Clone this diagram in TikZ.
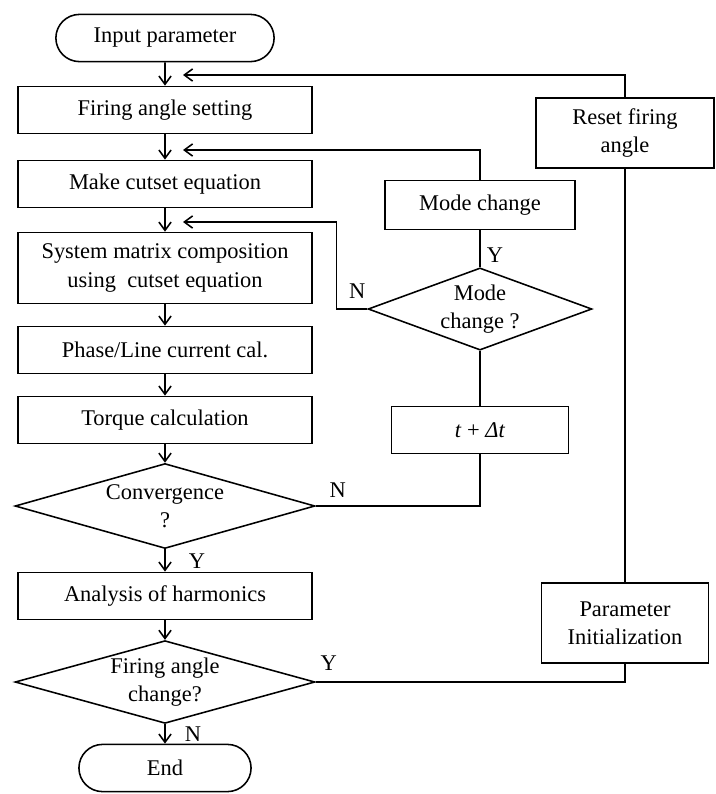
\documentclass[tikz,border=0pt]{standalone}
\usepackage{fontspec}
\setmainfont{Liberation Serif}
\usetikzlibrary{positioning, arrows.meta, calc, shapes.geometric, shapes.misc}
\tikzset{
  proc/.style = {rectangle, draw, line width=0.8pt, minimum width=5.29cm,
                 minimum height=0.85cm, align=center, inner sep=1pt},
  term/.style = {rounded rectangle, draw, line width=0.8pt,
                 minimum height=0.85cm, inner sep=1pt},
  decision/.style = {diamond, draw, line width=0.8pt, align=center,
                     inner sep=0pt, aspect=3.4},
  flow/.style = {-{Straight Barb[length=1.5mm, width=2.2mm]}, line width=0.8pt},
  link/.style = {line width=0.8pt},
  yn/.style = {inner sep=0pt},
}

\begin{document}
\begin{tikzpicture}[x=0.018cm, y=-0.018cm,
  every node/.style={font=\fontsize{11.5}{14.5}\selectfont}]
\useasboundingbox (0,0) rectangle (715,794);

% main column
\node[term, minimum width=4cm] (inp) at (165,38) {Input parameter};
\node[proc] (fire) at (165,110) {Firing angle setting};
\node[proc] (cut) at (165,184) {Make cutset equation};
\node[proc, minimum height=1.28cm] (sys) at (165,268)
      {System matrix composition\\using~ cutset equation};
\node[proc] (phase) at (165,350) {Phase/Line current cal.};
\node[proc] (torq) at (165,420) {Torque calculation};
\node[decision, minimum width=5.4cm, minimum height=1.53cm] (conv) at (165,506)
      {Convergence\\?};
\node[proc] (harm) at (165,596) {Analysis of harmonics};
\node[decision, minimum width=5.4cm, minimum height=1.49cm] (fchg) at (165,682)
      {Firing angle\\change?};
\node[term, minimum width=3.17cm] (end) at (165,768) {End};

% right side
\node[proc, minimum width=3.2cm, minimum height=1.26cm] (reset) at (625,133)
      {Reset firing\\angle};
\node[proc, minimum width=3.0cm, minimum height=1.44cm] (pinit) at (625,623)
      {Parameter\\Initialization};
\node[proc, minimum width=3.42cm, minimum height=0.88cm] (mode) at (480,205)
      {Mode change};
\node[decision, minimum width=4.03cm, minimum height=1.48cm, aspect=2.7] (mchg)
      at (480,309) {Mode\\change ?};
\node[proc, minimum width=3.19cm] (tdt) at (480,430) {\textit{t} + \textit{Δt}};

% main flow
\draw[flow] (inp) -- (fire);
\draw[flow] (fire) -- (cut);
\draw[flow] (cut) -- (sys);
\draw[flow] (sys) -- (phase);
\draw[flow] (phase) -- (torq);
\draw[flow] (torq) -- (conv);
\draw[flow] (conv) -- (harm);
\draw[flow] (harm) -- (fchg);
\draw[flow] (fchg) -- (end);
\node[yn] (ylab1) at ($(conv.south)+(32,12)$) {Y};
\node[yn] (nlab1) at ($(fchg.south)+(28,10)$) {N};

% feedback arrows
\coordinate (fb1) at (183,75);
\coordinate (fb2) at (183,150);
\coordinate (fb3) at (183,222);
\draw[flow] (reset.north) |- (fb1);
\draw[flow] (mode.north) |- (fb2);
\draw[flow] (mchg.west) -- ++(-31,0) |- (fb3);
\node[yn] (nlab2) at ($(mchg.west)+(-10,-18)$) {N};

% loop through time step
\draw[link] (mode) -- (mchg);
\node[yn] (ylab2) at ($(mchg.north)+(15,-12)$) {Y};
\draw[link] (mchg) -- (tdt);
\draw[link] (tdt.south) |- (conv.east);
\node[yn] (nlab3) at ($(conv.east)+(22,-16)$) {N};

% firing angle loop
\draw[link] (fchg.east) -| (pinit.south);
\node[yn] (ylab3) at ($(fchg.east)+(13,-19)$) {Y};
\draw[link] (pinit) -- (reset);

\end{tikzpicture}
\end{document}
